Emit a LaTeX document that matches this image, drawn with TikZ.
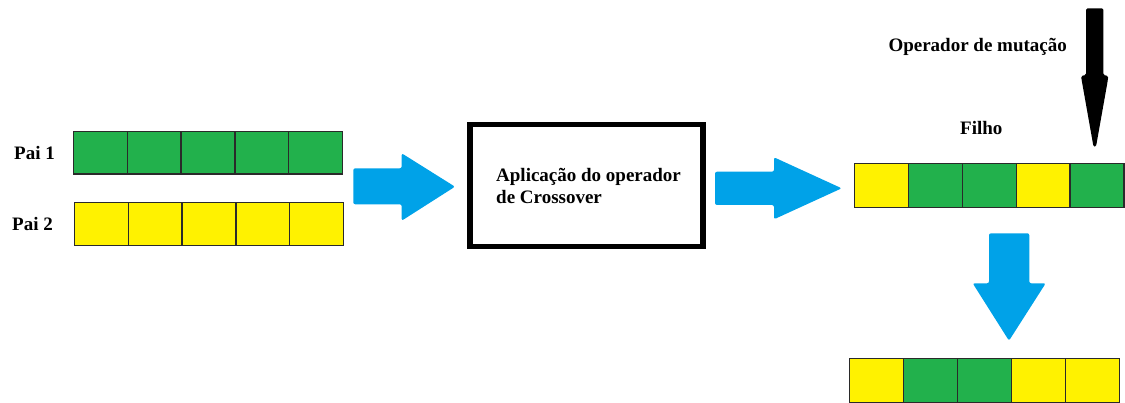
\documentclass[tikz,border=0pt]{standalone}
\usepackage{fontspec}
\setmainfont{Liberation Serif}
\definecolor{cgreen}{HTML}{22B14C}
\definecolor{cyellow}{HTML}{FFF200}
\definecolor{cblue}{HTML}{00A2E8}
\definecolor{cedge}{HTML}{2A2A2A}
\tikzset{
  lbl/.style={anchor=base west, inner sep=0pt, font=\fontsize{19}{22}\selectfont\bfseries},
  cell/.style={draw=cedge, line width=1.3pt},
  bluearrow/.style={fill=cblue, draw=none, rounded corners=2pt},
}
\begin{document}
\begin{tikzpicture}[x=1pt, y=-1pt]
\useasboundingbox (0,0) rectangle (1125,403);
% Pai 1
\foreach \i in {0,...,4} {
  \fill[cgreen] (73.5+\i*53.8,131.5) rectangle ++(53.8,42.5);
  \draw[cell] (73.5+\i*53.8,131.5) rectangle ++(53.8,42.5);
}
% Pai 2
\foreach \i in {0,...,4} {
  \fill[cyellow] (74.5+\i*53.8,202.5) rectangle ++(53.8,43);
  \draw[cell] (74.5+\i*53.8,202.5) rectangle ++(53.8,43);
}
\node[lbl] (p1) at (14,159.3) {Pai 1};
\node[lbl] (p2) at (12,231) {Pai 2};
% arrow 1
\fill[bluearrow] (353.3,168.3) -- (401.7,168.3) -- (401.7,153.3) -- (455,186.7) -- (401.7,220.7) -- (401.7,204.3) -- (353.3,204.3) -- cycle;
% box
\node[draw, line width=5.5pt, minimum width=233pt, minimum height=122pt, inner sep=0pt] (box) at (586.6,185.5) {};
\node[lbl] (t1) at (496,181.7) {Aplicação do operador};
\node[lbl] (t2) at (496,203.7) {de Crossover};
% arrow 2
\fill[bluearrow] (715,171.7) -- (774,171.7) -- (774,157.3) -- (841.7,188.3) -- (774,219.3) -- (774,205) -- (715,205) -- cycle;
% Filho
\foreach \c [count=\i from 0] in {cyellow,cgreen,cgreen,cyellow,cgreen} {
  \fill[\c] (854.5+\i*53.9,163.5) rectangle ++(53.9,43.7);
  \draw[cell] (854.5+\i*53.9,163.5) rectangle ++(53.9,43.7);
}
\node[lbl] (filho) at (960,135) {Filho};
% mutation arrow
\node[lbl] (mut) at (888.3,51.7) {Operador de mutação};
\fill[black, rounded corners=1.5pt] (1086,8.3) -- (1103.3,8.3) -- (1103.3,75) -- (1108.3,76) -- (1107.5,82) -- (1096,146.7) -- (1093.5,146.7) -- (1082,82) -- (1081,76) -- (1086,75) -- cycle;
% down arrow
\fill[bluearrow] (989,233.3) -- (1029.3,233.3) -- (1029.3,283.3) -- (1045.7,283.3) -- (1009,340.7) -- (972.7,283.3) -- (989,283.3) -- cycle;
% bottom
\foreach \c [count=\i from 0] in {cyellow,cgreen,cgreen,cyellow,cyellow} {
  \fill[\c] (849.5+\i*54,358.5) rectangle ++(54,43.7);
  \draw[cell] (849.5+\i*54,358.5) rectangle ++(54,43.7);
}
\end{tikzpicture}
\end{document}
